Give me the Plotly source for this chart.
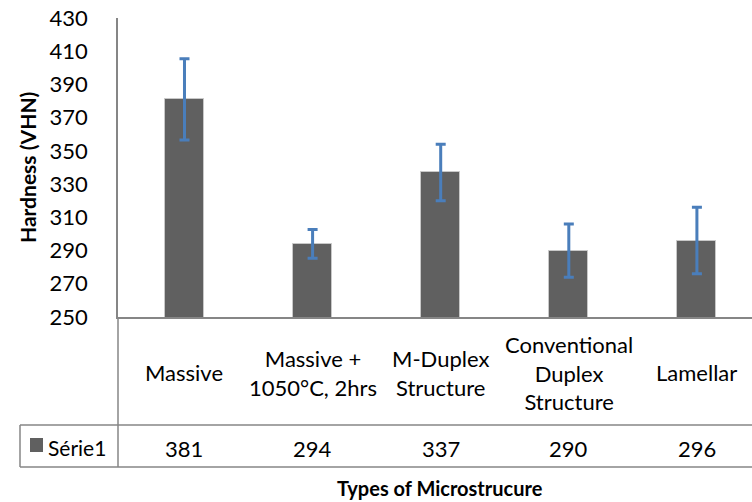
import plotly.graph_objects as go

categories = ["Massive", "Massive +<br>1050°C, 2hrs", "M-Duplex<br>Structure",
              "Conventional<br>Duplex<br>Structure", "Lamellar"]
hardness = [381, 294, 337, 290, 296]
hardness_err = [24.5, 8.7, 17, 16, 20]
series_name = "Série1"

W, H = 752, 502
L, T, B = 118, 18, 317          # plot area in pixels
PH = B - T
FONT = "Lato"
GRID = "#868686"


def py(p):
    """pixel row -> paper y"""
    return (B - p) / PH


def px(p):
    """pixel column -> paper x"""
    return (p - L) / (W - L)


fig = go.Figure(
    go.Bar(
        x=categories,
        y=hardness,
        name=series_name,
        width=0.305,
        marker=dict(color="#606060", line=dict(color="#c8c8c8", width=1)),
        error_y=dict(type="data", array=hardness_err, color="#4a7ebb",
                     thickness=3, width=5),
    )
)

# data table below the plot
txt = dict(size=22, family=FONT, color="black")
ann = []
for c, v in zip(categories, hardness):
    ann.append(dict(x=c, y=py(373), xref="x", yref="paper", text=c,
                    showarrow=False, yanchor="middle", font=txt))
    ann.append(dict(x=c, y=py(448), xref="x", yref="paper", text=str(v),
                    showarrow=False, yanchor="middle", font=txt))
ann.append(dict(x=px(46), y=py(447), xref="paper", yref="paper", text=series_name,
                showarrow=False, xanchor="left", yanchor="middle",
                font=dict(size=21, family=FONT, color="black")))
ann.append(dict(x=px(440), y=py(488), xref="paper", yref="paper",
                text="<b>Types of Microstrucure</b>", showarrow=False,
                yanchor="middle", font=dict(size=20, family=FONT, color="black")))
ann.append(dict(x=px(27), y=py(168), xref="paper", yref="paper",
                text="<b>Hardness (VHN)</b>", showarrow=False, textangle=-90,
                xanchor="center", yanchor="middle",
                font=dict(size=21, family=FONT, color="black")))

line = dict(color=GRID, width=1.5)
shapes = [
    dict(type="line", xref="paper", yref="paper", x0=0, x1=0, y0=0, y1=py(467), line=line),
    dict(type="line", xref="paper", yref="paper", x0=px(20), x1=1, y0=py(425), y1=py(425), line=line),
    dict(type="line", xref="paper", yref="paper", x0=px(20), x1=1, y0=py(467), y1=py(467), line=line),
    dict(type="line", xref="paper", yref="paper", x0=px(20), x1=px(20), y0=py(425), y1=py(467), line=line),
    dict(type="rect", xref="paper", yref="paper", x0=px(30), x1=px(43), y0=py(452), y1=py(438),
         fillcolor="#606060", line=dict(width=0)),
]

fig.update_layout(
    width=W, height=H,
    margin=dict(l=L, r=0, t=T, b=H - B),
    plot_bgcolor="white", paper_bgcolor="white",
    showlegend=False,
    bargap=0,
    annotations=ann,
    shapes=shapes,
    font=dict(family=FONT, color="black"),
)
fig.update_xaxes(
    range=[-0.519, 4.43], showticklabels=False, showgrid=False, automargin=False,
    showline=True, linecolor=GRID, linewidth=2, ticks="",
)
fig.update_yaxes(
    range=[250, 430], tick0=250, dtick=20, showgrid=False, zeroline=False,
    automargin=False, showline=True, linecolor=GRID, linewidth=1.5, ticks="",
    ticklabelstandoff=24,
    tickfont=dict(size=22, family=FONT, color="black"),
)

# drop the browser's default 8px body margin so the figure fills the window
fig.write_html("out.html", config={"displayModeBar": False},
               post_script="document.body.style.margin = '0';")
